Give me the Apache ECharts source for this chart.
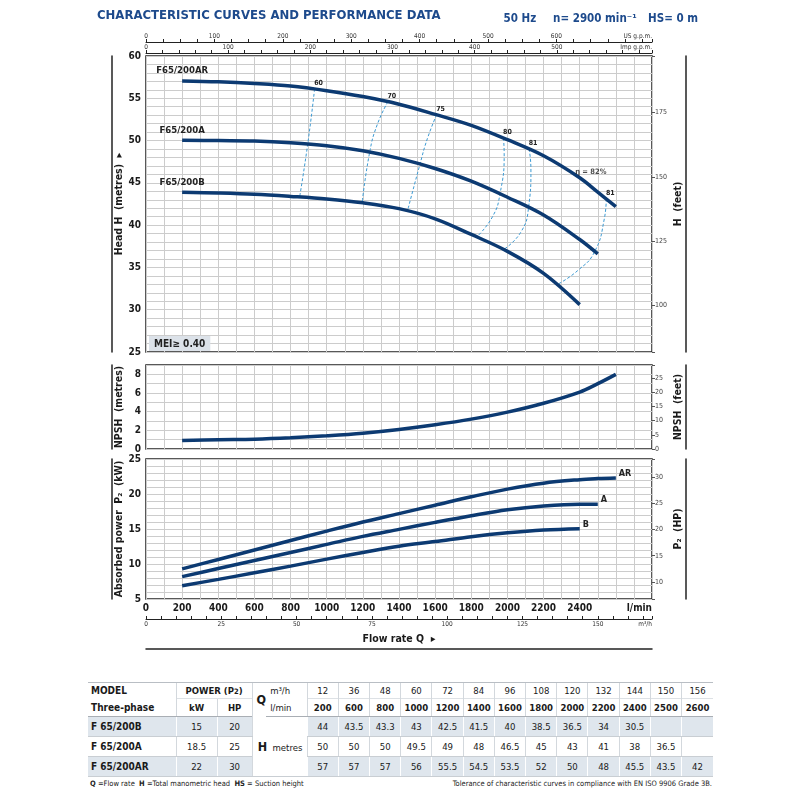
<!DOCTYPE html>
<html>
<head>
<meta charset="utf-8">
<title>F65/200 characteristic curves</title>
<script src="https://cdn.jsdelivr.net/npm/echarts@6.0.0/dist/echarts.min.js"></script>
<style>
  body { margin: 0; background: #fff; }
  #chart { position: absolute; left: 0; top: 0; width: 800px; height: 672px; }
  #perf { position: absolute; left: 88px; top: 682px; width: 625px; border-collapse: collapse; table-layout: fixed;
          font-family: 'DejaVu Sans Condensed', 'Liberation Sans', sans-serif; font-size: 9.5px; color: #1a1a1a; }
  #perf td { text-align: center; padding: 0; border-left: 1px solid #d3d8dd; white-space: nowrap; }
  #perf td.first { text-align: left; padding-left: 3px; border-left: none; font-weight: bold; font-size: 10px; }
  #perf td.nol { border-left: none; text-align: left; }
  #perf tr.top td { height: 15px; border-top: 1px solid #b9bec4; }
  #perf tr.sub td { height: 17px; border-bottom: 1px solid #a9aeb4; }
  #perf tr.sub td.val, #perf tr.sub td.pw { border-top: 1px solid #dde1e5; }
  #perf tr.row td { height: 19px; border-bottom: 1px solid #c9ced3; }
  #perf tr.shade td { background: #dfe6ed; border-left-color: #fff; }
  #perf td.hcell { background: #fff !important; border-left: 1px solid #d3d8dd !important; text-align: left; padding-left: 5px; }
  #perf .b { font-weight: bold; }
  #perf .bigq { font-weight: bold; font-size: 12.5px; }
  .note { position: absolute; top: 779px; font-family: 'DejaVu Sans Condensed', 'Liberation Sans', sans-serif; font-size: 7.5px; color: #222; }
  .note b { font-weight: bold; }
</style>
</head>
<body>
<div id="chart"></div>
<table id="perf"></table>
<div class="note" style="left:90px;"><b>Q</b> =Flow rate &nbsp;<b>H</b> =Total manometric head &nbsp;<b>HS</b> = Suction height</div>
<div class="note" style="right:88px;">Tolerance of characteristic curves in compliance with EN ISO 9906 Grade 3B.</div>
<script>
// table values
var flowM3h = [12, 36, 48, 60, 72, 84, 96, 108, 120, 132, 144, 150, 156];
var flowLmin = [200, 600, 800, 1000, 1200, 1400, 1600, 1800, 2000, 2200, 2400, 2500, 2600];
var models = ['F 65/200B', 'F 65/200A', 'F 65/200AR'];
var powerKw = [15, 18.5, 22];
var powerHp = [20, 25, 30];
var tableHeadB = [44, 43.5, 43.3, 43, 42.5, 41.5, 40, 38.5, 36.5, 34, 30.5];
var tableHeadA = [50, 50, 50, 49.5, 49, 48, 46.5, 45, 43, 41, 38, 36.5];
var tableHeadAR = [57, 57, 57, 56, 55.5, 54.5, 53.5, 52, 50, 48, 45.5, 43.5, 42];

// curves (l/min -> metres / kW)
var curveQ = [200, 400, 600, 800, 1000, 1200, 1400, 1600, 1800, 2000, 2200, 2400, 2500, 2600];
var headB = [43.9, 43.8, 43.65, 43.4, 43.1, 42.65, 41.95, 40.75, 38.9, 36.9, 34.3, 30.6];
var headA = [50.05, 50.0, 49.95, 49.75, 49.4, 48.8, 47.9, 46.7, 45.2, 43.3, 41.2, 38.3, 36.6];
var headAR = [57.05, 56.95, 56.75, 56.45, 55.9, 55.2, 54.3, 53.1, 51.8, 50.1, 48.2, 45.6, 43.9, 42.2];
var npshQ = [200, 400, 600, 800, 1000, 1200, 1400, 1600, 1800, 2000, 2200, 2400, 2500, 2600];
var npsh = [0.92, 1.0, 1.05, 1.2, 1.42, 1.7, 2.1, 2.6, 3.2, 3.95, 4.9, 6.1, 7.0, 8.0];
var powerB = [6.9, 7.8, 8.75, 9.7, 10.7, 11.65, 12.55, 13.2, 13.9, 14.45, 14.85, 15.05];
var powerA = [8.2, 9.35, 10.5, 11.65, 12.8, 13.95, 14.95, 15.95, 16.9, 17.75, 18.3, 18.55, 18.55];
var powerAR = [9.3, 10.65, 12.0, 13.35, 14.7, 16.0, 17.2, 18.4, 19.6, 20.7, 21.55, 22.05, 22.2, 22.3];

// iso-efficiency lines [l/min, m]
var eff60 = [[933, 56.1], [895, 49.6], [850, 43.3]];
var eff70 = [[1338, 54.58], [1279, 51.85], [1238, 48.65], [1196, 42.65]];
var eff75 = [[1608, 53.05], [1557, 50.23], [1516, 47.2], [1446, 41.6]];
var eff80 = [[1978, 50.3], [1982, 48.47], [1959, 43.7], [1917, 40.98], [1830, 38.6]];
var eff81a = [[2120, 49.0], [2130, 46.64], [2117, 42.1], [2074, 39.16], [1978, 37.1]];
var eff81b = [[2547, 43.1], [2536, 40.73], [2481, 36.8], [2389, 34.63], [2278, 33.0]];
var effLines = [eff60, eff70, eff75, eff80, eff81a, eff81b];
var effLabels = ['60', '70', '75', '80', '81', '81'];
var etaPoint = [2375, 45.9];

var M2FT = 3.28084, KW2HP = 1.34102;
var qMax = 2800;
var usMax = qMax / 3.78541, impMax = qMax / 4.54609, m3hMax = qMax * 0.06;

var font = "'DejaVu Sans Condensed', 'Liberation Sans', sans-serif";
var navy = '#0c3a72';
var effColor = '#3d9bd4';
var gridColor = '#cccccc';
var ink = '#1a1a1a';

function pairs(xs, ys) { return ys.map(function (y, i) { return [xs[i], y]; }); }
function multipleOf(v, step) { return Math.abs(v / step - Math.round(v / step)) < 1e-6; }

var chart = echarts.init(document.getElementById('chart'));

function qAxis(grid, labels) {
  return {
    type: 'value', gridIndex: grid, min: 0, max: qMax, interval: 200,
    axisLine: { show: false, onZero: false }, axisTick: { show: false },
    axisLabel: labels ? {
      show: true, fontSize: 10, fontWeight: 'bold', color: ink, margin: 4, fontFamily: font,
      showMaxLabel: true, alignMaxLabel: 'right',
      formatter: function (v) { return v >= qMax ? 'l/min' : String(v); }
    } : { show: false },
    splitLine: { show: true, lineStyle: { color: gridColor, width: 1 } },
    minorTick: { show: false, splitNumber: 2 },
    minorSplitLine: { show: true, lineStyle: { color: gridColor, width: 1 } }
  };
}

function scaleAxis(grid, pos, offset, max, step, labelStep, lastLabel, endText) {
  return {
    type: 'value', gridIndex: grid, position: pos, offset: offset, min: 0, max: max, interval: step,
    axisLine: { show: true, onZero: false, lineStyle: { color: '#222', width: 1 } },
    axisTick: { show: true, length: 3, inside: pos === 'bottom', lineStyle: { color: '#222' } },
    axisLabel: {
      show: true, fontSize: 6.5, color: '#333', margin: 2, fontFamily: font,
      showMinLabel: true, showMaxLabel: true, alignMaxLabel: 'right',
      formatter: function (v) {
        if (v >= max - 1e-6) return endText;
        return (multipleOf(v, labelStep) && v <= lastLabel) ? String(Math.round(v)) : '';
      }
    },
    splitLine: { show: false }
  };
}

function leftAxis(grid, min, max, step, minor, name) {
  return {
    type: 'value', gridIndex: grid, position: 'left', min: min, max: max, interval: step,
    axisLine: { show: false, onZero: false }, axisTick: { show: false },
    axisLabel: { fontSize: 10, fontWeight: 'bold', color: ink, margin: 5, fontFamily: font,
      showMinLabel: true, showMaxLabel: true,
      formatter: function (v) { return multipleOf(v, step) ? String(v) : ''; } },
    splitLine: { show: true, lineStyle: { color: gridColor, width: 1 } },
    minorTick: { show: false, splitNumber: minor },
    minorSplitLine: { show: true, lineStyle: { color: gridColor, width: 1 } },
    name: name, nameLocation: 'middle', nameGap: 21, nameMoveOverlap: false,
    nameTextStyle: { fontSize: 10.5, fontWeight: 'bold', color: ink, fontFamily: font }
  };
}

function rightAxis(grid, min, max, step, useInterval, name) {
  var ax = {
    type: 'value', gridIndex: grid, position: 'right', min: min, max: max,
    axisLine: { show: false, onZero: false },
    axisTick: { show: true, length: 3, lineStyle: { color: '#555' } },
    axisLabel: {
      fontSize: 7, color: '#444', margin: 3, fontFamily: font,
      formatter: function (v) { return multipleOf(v, step) ? String(Math.round(v)) : ''; }
    },
    splitLine: { show: false },
    name: name, nameLocation: 'middle', nameGap: 21, nameMoveOverlap: false,
    nameTextStyle: { fontSize: 10.5, fontWeight: 'bold', color: ink, fontFamily: font }
  };
  if (useInterval) ax.interval = step; else { ax.minInterval = step; ax.maxInterval = step; }
  return ax;
}

function frameAxis(grid, pos, offset) {
  return {
    type: 'value', gridIndex: grid, position: pos, offset: offset, min: 0, max: 1,
    axisLine: { show: true, onZero: false, lineStyle: { color: '#222', width: 1.5 } },
    axisTick: { show: false }, axisLabel: { show: false }, splitLine: { show: false }
  };
}

var xAxes = [
  qAxis(0, false),
  scaleAxis(0, 'top', 14, usMax, 25, 100, 600, 'US g.p.m.'),
  scaleAxis(0, 'top', 3, impMax, 20, 100, 500, 'Imp g.p.m.'),
  qAxis(1, false),
  qAxis(2, true),
  scaleAxis(2, 'bottom', 20, m3hMax, 5, 25, 150, 'm³/h'),
  frameAxis(2, 'bottom', 50)
];
xAxes[5].name = 'Flow rate Q  ▸';
xAxes[5].nameLocation = 'middle';
xAxes[5].nameGap = 15;
xAxes[5].nameMoveOverlap = false;
xAxes[5].nameTextStyle = { fontSize: 10.5, fontWeight: 'bold', color: ink, fontFamily: font };

var yAxes = [
  leftAxis(0, 25, 60, 5, 5, 'Head H  (metres)  ▸'),
  rightAxis(0, 25 * M2FT, 60 * M2FT, 25, false, 'H  (feet)'),
  frameAxis(0, 'left', 34),
  frameAxis(0, 'right', 34),
  leftAxis(1, 0, 9, 2, 2, 'NPSH  (metres)'),
  rightAxis(1, 0, 9 * M2FT, 5, true, 'NPSH  (feet)'),
  frameAxis(1, 'left', 34),
  frameAxis(1, 'right', 34),
  leftAxis(2, 5, 25, 5, 5, 'Absorbed power  P₂  (kW)'),
  rightAxis(2, 5 * KW2HP, 25 * KW2HP, 5, false, 'P₂  (HP)'),
  frameAxis(2, 'left', 34),
  frameAxis(2, 'right', 34)
];

var series = [];

function curve(xAxis, yAxis, data, width) {
  return {
    type: 'line', xAxisIndex: xAxis, yAxisIndex: yAxis, data: data, smooth: 0.35,
    symbol: 'circle', symbolSize: 0.01, showSymbol: true,
    itemStyle: { color: navy }, lineStyle: { color: navy, width: width || 3.5 },
    silent: true, z: 5
  };
}

[['F65/200B', headB], ['F65/200A', headA], ['F65/200AR', headAR]].forEach(function (c) {
  var d = pairs(curveQ, c[1]);
  d[0] = { value: d[0], label: { show: true, formatter: c[0], position: 'top', distance: 5,
    fontSize: 9.5, fontWeight: 'bold', color: '#222', fontFamily: font } };
  series.push(curve(0, 0, d));
});

effLines.forEach(function (pts, i) {
  var d = pts.slice();
  d[0] = { value: pts[0], label: { show: true, formatter: effLabels[i], position: 'top', distance: 2,
    offset: [4, 0], fontSize: 7, fontWeight: 'bold', color: '#222', fontFamily: font } };
  series.push({
    type: 'line', xAxisIndex: 0, yAxisIndex: 0, data: d, smooth: 0.5,
    symbol: 'circle', symbolSize: 0.01, showSymbol: true,
    itemStyle: { color: effColor }, lineStyle: { color: effColor, width: 1, type: [3, 2] },
    silent: true, z: 3
  });
});

series.push({
  type: 'scatter', xAxisIndex: 0, yAxisIndex: 0, data: [etaPoint], symbolSize: 0.01,
  itemStyle: { color: 'transparent' }, silent: true, z: 6,
  label: { show: true, position: 'right', distance: 0, offset: [0, -3], formatter: 'η = 82%',
    fontSize: 7.5, fontWeight: 'bold', color: '#222', fontFamily: font }
});

series.push(curve(3, 4, pairs(npshQ, npsh), 3.5));

[['B', powerB], ['A', powerA], ['AR', powerAR]].forEach(function (c) {
  var s = curve(4, 8, pairs(curveQ, c[1]), 3.5);
  s.endLabel = { show: true, formatter: c[0], distance: 3, offset: [0, -4],
    fontSize: 9, fontWeight: 'bold', color: '#222', fontFamily: font };
  series.push(s);
});

var gridBase = { left: 146, right: 148, show: true, borderColor: '#222', borderWidth: 1.5,
  backgroundColor: '#fff', containLabel: false, outerBoundsMode: 'none' };

chart.setOption({
  animation: false,
  textStyle: { fontFamily: font },
  title: [
    { text: 'CHARACTERISTIC CURVES AND PERFORMANCE DATA', left: 92, top: 4,
      textStyle: { fontSize: 13, fontWeight: 'bold', color: '#1d4a8c', fontFamily: font } },
    { text: '{b|50 Hz}   {b|n= 2900 min⁻¹}  {r|HS= 0 m}', right: 97, top: 5,
      textStyle: { rich: {
        b: { fontSize: 11.5, fontWeight: 'bold', color: '#1d4a8c', fontFamily: font },
        r: { fontSize: 11.5, color: '#1d4a8c', fontFamily: font } } } }
  ],
  grid: [
    Object.assign({ top: 56, height: 296 }, gridBase),
    Object.assign({ top: 365, height: 84 }, gridBase),
    Object.assign({ top: 459, height: 140 }, gridBase)
  ],
  xAxis: xAxes,
  yAxis: yAxes,
  graphic: [
    { type: 'text', left: 149, top: 336, z: 10,
      style: { text: 'MEI≥ 0.40', font: 'bold 10px ' + font, fill: '#222',
        backgroundColor: '#dce2e9', padding: [3, 5, 2, 5] } }
  ],
  series: series
});

// performance table
function buildTable() {
  var t = document.getElementById('perf');
  var html = '<colgroup><col style="width:88px"><col style="width:41px"><col style="width:35px">' +
    '<col style="width:14px"><col style="width:41px">';
  flowM3h.forEach(function () { html += '<col style="width:31.2px">'; });
  html += '</colgroup>';

  html += '<tr class="top"><td class="first">MODEL</td><td colspan="2" class="b pw">POWER (P<span style="font-size:7.5px">2</span>)</td>' +
    '<td rowspan="2" class="bigq" style="text-align:right">Q</td><td class="nol" style="padding-left:4px">m³/h</td>';
  flowM3h.forEach(function (v) { html += '<td class="val">' + v + '</td>'; });
  html += '</tr>';

  html += '<tr class="sub"><td class="first">Three-phase</td><td class="b pw">kW</td><td class="b pw">HP</td>' +
    '<td class="nol" style="padding-left:4px">l/min</td>';
  flowLmin.forEach(function (v) { html += '<td class="val b">' + v + '</td>'; });
  html += '</tr>';

  var heads = [tableHeadB, tableHeadA, tableHeadAR];
  models.forEach(function (m, r) {
    html += '<tr class="row' + (r !== 1 ? ' shade' : '') + '"><td class="first">' + m + '</td>' +
      '<td>' + powerKw[r] + '</td><td>' + powerHp[r] + '</td>';
    if (r === 0) html += '<td rowspan="3" colspan="2" class="hcell"><span class="bigq">H</span>&nbsp; metres</td>';
    for (var i = 0; i < flowLmin.length; i++) {
      html += '<td>' + (heads[r][i] !== undefined ? heads[r][i] : '') + '</td>';
    }
    html += '</tr>';
  });
  t.innerHTML = html;
}
buildTable();

window.onresize = function () { chart.resize(); };
</script>
</body>
</html>
